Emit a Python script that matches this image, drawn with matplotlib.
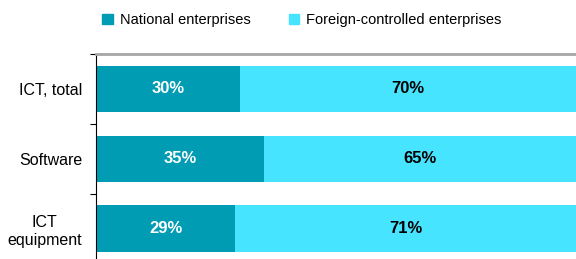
import numpy as np
import matplotlib.pyplot as plt
from matplotlib.patches import Patch

plt.rcParams['font.family'] = ['Liberation Sans', 'DejaVu Sans']

categories = ['ICT, total', 'Software', 'ICT\nequipment']
national = [30, 35, 29]
foreign = [70, 65, 71]
series_names = ['National enterprises', 'Foreign-controlled enterprises']

dark = '#009cb4'
light = '#47e4ff'

fig = plt.figure(figsize=(5.76, 2.59), dpi=100)
ax = fig.add_axes([96 / 576, 0, 480 / 576, 205 / 259])

y = np.arange(len(categories))
ax.barh(y, national, height=0.67, color=dark)
ax.barh(y, foreign, left=national, height=0.67, color=light)

for i in range(len(categories)):
    ax.text(national[i] / 2, y[i], '%d%%' % national[i], color='white',
            fontweight='bold', fontsize=12, ha='center', va='center')
    ax.text(national[i] + foreign[i] / 2, y[i], '%d%%' % foreign[i],
            color='black', fontweight='bold', fontsize=12,
            ha='center', va='center')

ax.set_xlim(0, 100)
ax.set_ylim(2.43, -0.49)
ax.set_xticks([])
ax.set_yticks(y)
ax.set_yticklabels(categories, fontsize=11.5, multialignment='center')
ax.tick_params(axis='y', which='major', length=0, pad=10)
ax.set_yticks([-0.5, 0.5, 1.5], minor=True)
ax.tick_params(axis='y', which='minor', length=4, width=0.8, direction='out')

ax.spines['right'].set_visible(False)
ax.spines['bottom'].set_visible(False)
ax.spines['left'].set_color('black')
ax.spines['left'].set_linewidth(0.8)
ax.spines['top'].set_color('#a6a6a6')
ax.spines['top'].set_linewidth(2)

handles = [Patch(color=dark), Patch(color=light)]
fig.legend(handles, series_names, loc='center', ncol=2,
           bbox_to_anchor=(302 / 576, 1 - 20 / 259), frameon=False,
           fontsize=10.5, handlelength=0.7, handleheight=0.7,
           handletextpad=0.5, columnspacing=2.6)

fig.savefig('out.png', dpi=100)
